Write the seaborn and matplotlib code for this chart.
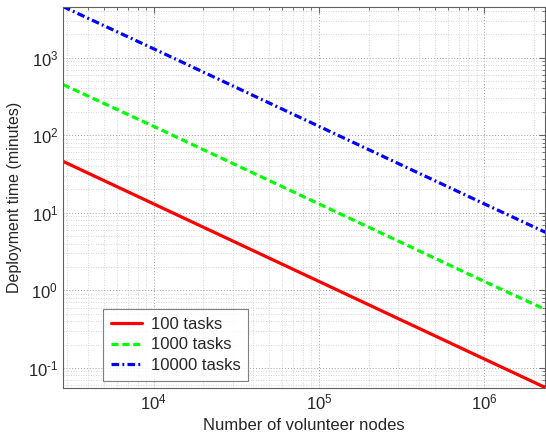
import matplotlib
matplotlib.use("Agg")
from matplotlib import pyplot as plt
import matplotlib.ticker as mtick
import pandas as pd
import seaborn as sns

# values (log-log, straight lines)
nodes = [2830, 1e4, 1e5, 1e6, 2.34e6]
tasks_100 = [46, 13.0, 1.30, 0.130, 0.0556]
tasks_1000 = [450, 130, 13.0, 1.30, 0.565]
tasks_10000 = [4550, 1300, 130, 13.0, 5.6]
labels = ["100 tasks", "1000 tasks", "10000 tasks"]

df = pd.DataFrame({"nodes": nodes, labels[0]: tasks_100,
                   labels[1]: tasks_1000, labels[2]: tasks_10000})

sns.set_style("white")
plt.rcParams["font.family"] = ["Liberation Sans", "DejaVu Sans"]
plt.rcParams["mathtext.fontset"] = "custom"
plt.rcParams["mathtext.rm"] = "Liberation Sans"
plt.rcParams["axes.unicode_minus"] = False

fig = plt.figure(figsize=(5.46, 4.4), dpi=100)
ax = fig.add_axes([0.1154, 0.119, 0.8836, 0.866])

styles = [("#ff0000", "-"), ("#00ff00", (0, (2.2, 1.2))), ("#0000ff", (0, (2.4, 1.0, 0.6, 1.0)))]
for lab, (col, ls) in zip(labels, styles):
    sns.lineplot(data=df, x="nodes", y=lab, ax=ax, color=col, linestyle=ls,
                 linewidth=2.3, label=lab)

ax.set_xscale("log")
ax.set_yscale("log")
ax.set_xlim(nodes[0], nodes[-1])
ax.set_ylim(tasks_100[-1], tasks_10000[0])


def pow_fmt(v, pos):
    import math
    e = int(round(math.log10(v)))
    es = r"\text{-}" + str(-e) if e < 0 else str(e)
    return r"$\mathregular{10^{%s}}$" % es


ax.xaxis.set_major_formatter(mtick.FuncFormatter(pow_fmt))
ax.yaxis.set_major_formatter(mtick.FuncFormatter(pow_fmt))

ax.grid(True, which="major", linestyle=(0, (1, 2)), color="#a0a0a0", linewidth=0.7)
ax.grid(True, which="minor", linestyle=(0, (1, 2)), color="#c8c8c8", linewidth=0.6)
ax.xaxis.set_major_locator(mtick.LogLocator(base=10, numticks=10))
ax.yaxis.set_major_locator(mtick.LogLocator(base=10, numticks=10))
ax.xaxis.set_minor_locator(mtick.LogLocator(base=10, subs=range(2, 10), numticks=20))
ax.yaxis.set_minor_locator(mtick.LogLocator(base=10, subs=range(2, 10), numticks=20))
ax.xaxis.set_minor_formatter(mtick.NullFormatter())
ax.yaxis.set_minor_formatter(mtick.NullFormatter())

for s in ax.spines.values():
    s.set_color("#606060")
    s.set_linewidth(0.8)
ax.tick_params(which="both", direction="in", top=True, right=True, color="#606060",
               labelsize=12)
ax.tick_params(which="major", length=4)
ax.tick_params(which="minor", length=2)

ax.set_xlabel("Number of volunteer nodes", fontsize=12)
ax.set_ylabel("Deployment time (minutes)", fontsize=11.5)

leg = ax.legend(loc="lower left", bbox_to_anchor=(0.083, 0.018), borderaxespad=0,
                fontsize=12, frameon=True, fancybox=False, handlelength=1.9,
                borderpad=0.45, labelspacing=0.35, handletextpad=0.5)
leg.get_frame().set_edgecolor("#606060")
leg.get_frame().set_linewidth(0.8)

fig.savefig("out.png", dpi=100)
